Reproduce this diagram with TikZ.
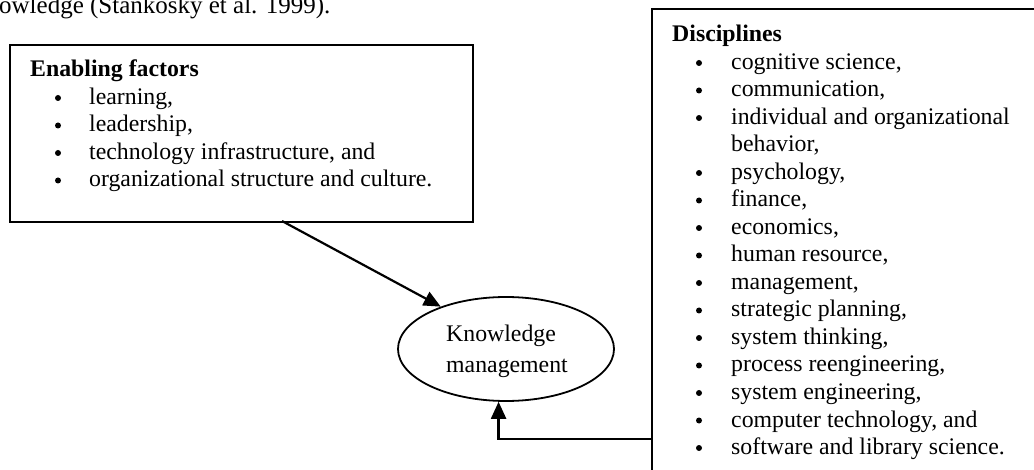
\documentclass[tikz,border=0pt]{standalone}
\usepackage{fontspec}
\setmainfont{Liberation Serif}
\usetikzlibrary{shapes.geometric,arrows.meta}

\begin{document}
\begin{tikzpicture}[x=1pt,y=-1pt,
  boxline/.style={draw=black, line width=1.8pt, inner sep=0pt, anchor=north west},
  txt/.style={anchor=base west, inner sep=0pt, font=\fontsize{23.8}{27.5}\selectfont},
  head/.style={anchor=base west, inner sep=0pt, font=\fontsize{23.8}{27.5}\selectfont\bfseries},
  bul/.style={circle, fill=black, inner sep=0pt, minimum size=6pt},
  arr/.style={line width=2.2pt, -{Triangle[length=17pt,width=15pt]}}]

\useasboundingbox (0,0) rectangle (1034,470);
\clip (0,0) rectangle (1034,470);

% running text above the figure
\node[anchor=base west, inner sep=0pt, font=\fontsize{25}{30}\selectfont] (cite) at (-1,14) {owledge (Stankosky et al. 1999).};

% enabling factors box
\node[boxline, minimum width=463pt, minimum height=177pt] (enab) at (9,44) {};
\node[head] (enabh) at (30,77) {Enabling factors};
\node[bul] (eb1) at (58,98) {};  \node[txt] (et1) at (89,104.5) {learning,};
\node[bul] (eb2) at (58,125.5) {};  \node[txt] (et2) at (89,132) {leadership,};
\node[bul] (eb3) at (58,153) {};  \node[txt] (et3) at (89,159.5) {technology infrastructure, and};
\node[bul] (eb4) at (58,180.5) {};  \node[txt] (et4) at (89,187) {organizational structure and culture.};

% disciplines box (runs past the page edges)
\node[boxline, minimum width=400pt, minimum height=480pt] (disc) at (651,8) {};
\node[head] (disch) at (672,42) {Disciplines};
\node[bul] (db1) at (699,63) {};    \node[txt] (dt1) at (731,69.5) {cognitive science,};
\node[bul] (db2) at (699,90.5) {};  \node[txt] (dt2) at (731,97) {communication,};
\node[bul] (db3) at (699,118) {};   \node[txt] (dt3) at (731,124.5) {individual and organizational};
                                    \node[txt] (dt3b) at (731,152) {behavior,};
\node[bul] (db4) at (699,173) {};   \node[txt] (dt4) at (731,179.5) {psychology,};
\node[bul] (db5) at (699,200.5) {}; \node[txt] (dt5) at (731,207) {finance,};
\node[bul] (db6) at (699,228) {};   \node[txt] (dt6) at (731,234.5) {economics,};
\node[bul] (db7) at (699,255.5) {}; \node[txt] (dt7) at (731,262) {human resource,};
\node[bul] (db8) at (699,283) {};   \node[txt] (dt8) at (731,289.5) {management,};
\node[bul] (db9) at (699,310.5) {}; \node[txt] (dt9) at (731,317) {strategic planning,};
\node[bul] (db10) at (699,338) {};  \node[txt] (dt10) at (731,344.5) {system thinking,};
\node[bul] (db11) at (699,365.5) {};\node[txt] (dt11) at (731,372) {process reengineering,};
\node[bul] (db12) at (699,393) {};  \node[txt] (dt12) at (731,399.5) {system engineering,};
\node[bul] (db13) at (699,420.5) {};\node[txt] (dt13) at (731,427) {computer technology, and};
\node[bul] (db14) at (699,448) {};  \node[txt] (dt14) at (731,454.5) {software and library science.};

% knowledge management ellipse
\node[draw, line width=1.8pt, ellipse, minimum width=216pt, minimum height=104pt, inner sep=0pt] (km) at (506,349) {};
\node[txt] (km1) at (446,342) {Knowledge};
\node[txt] (km2) at (446,373) {management};

% connectors
\coordinate (a1) at (282,221);
\draw[arr] (a1) -- (km.147);
\coordinate (a2) at (651,439);
\draw[arr] (a2) -| (km.262);
\end{tikzpicture}
\end{document}
